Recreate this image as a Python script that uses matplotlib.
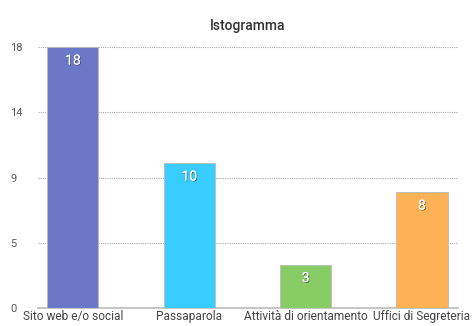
import matplotlib
matplotlib.use("Agg")
import matplotlib.pyplot as plt
import matplotlib.patheffects as pe

categories = ["Sito web e/o social", "Passaparola", "Attività di orientamento", "Uffici di Segreteria"]
values = [18, 10, 3, 8]
colors = ["#6b78c8", "#38ccff", "#88cc66", "#ffb155"]
tick_pos = [0, 4.5, 9, 13.5, 18]
tick_labels = ["0", "5", "9", "14", "18"]

plt.rcParams["font.family"] = ["Roboto", "DejaVu Sans"]

fig = plt.figure(figsize=(4.72, 3.26), dpi=100)
ax = fig.add_axes([38 / 472, 18 / 326, 420 / 472, 261 / 326])

x = range(len(categories))
bars = ax.bar(x, values, width=0.44, color=colors, edgecolor="#bbbbbb", linewidth=0.6, zorder=3)

# value labels inside the bars
for b, v in zip(bars, values):
    ax.text(b.get_x() + b.get_width() / 2, v - 0.45, str(v), ha="center", va="top",
            color="white", fontsize=10, zorder=4,
            path_effects=[pe.withSimplePatchShadow(offset=(0.6, -0.6), shadow_rgbFace="#333333", alpha=0.7), pe.Normal()])

ax.set_xlim(-0.3, 3.31)
ax.set_ylim(0, 18)
ax.set_yticks(tick_pos)
ax.set_yticklabels(tick_labels)
ax.set_xticks(list(x))
ax.set_xticklabels(categories)
ax.tick_params(axis="y", length=0, labelsize=8, labelcolor="#555555", pad=20)
ax.tick_params(axis="x", length=0, labelsize=8.6, labelcolor="#444444", pad=1.5)
for lbl in ax.get_yticklabels():
    lbl.set_horizontalalignment("left")

ax.grid(axis="y", linestyle=(0, (1, 1)), color="#aaaaaa", linewidth=0.8, zorder=0)
for s in ["top", "right", "left"]:
    ax.spines[s].set_visible(False)
ax.spines["bottom"].set_color("#bbbbbb")
ax.spines["bottom"].set_linewidth(1.2)

ax.set_title("Istogramma", fontsize=10, color="#333333", fontweight="medium", pad=12)

plt.savefig("out.png", dpi=100)
plt.close()
